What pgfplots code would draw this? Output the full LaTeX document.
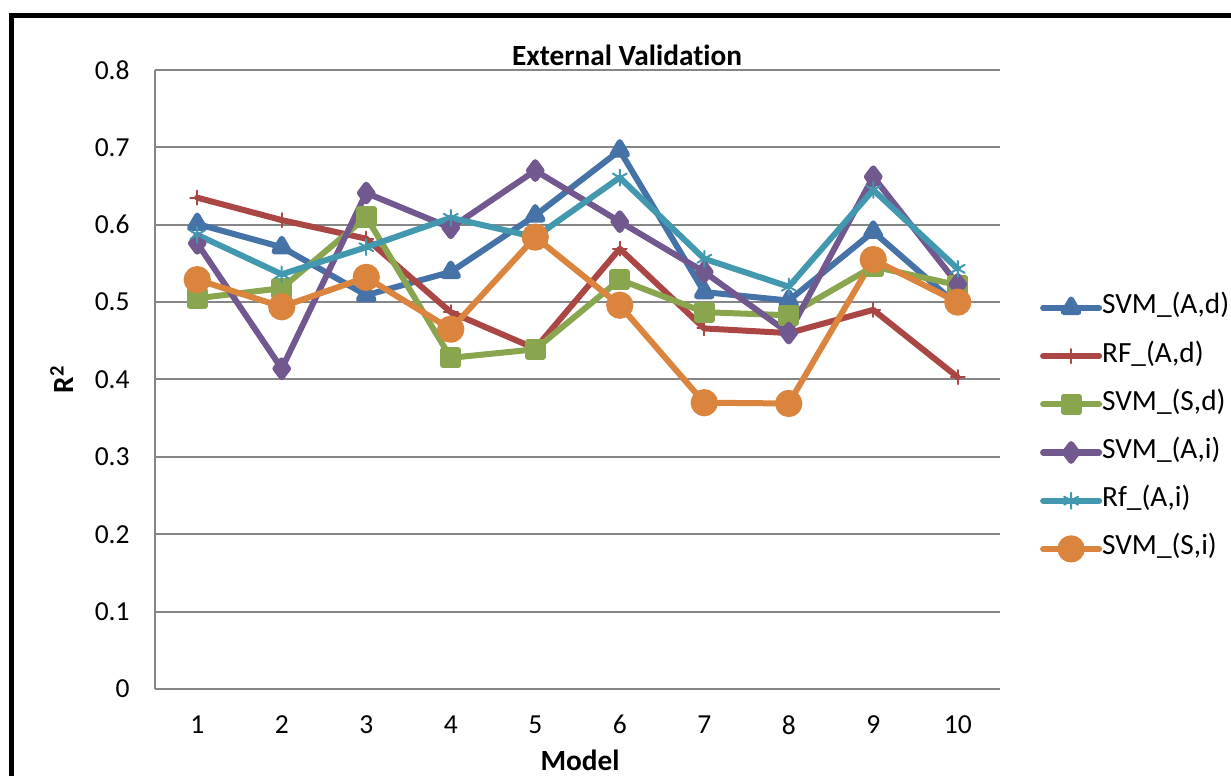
\documentclass[border=0pt]{standalone}
\usepackage{fontspec}
\setmainfont{Carlito}[Ligatures=NoCommon]
\usepackage{pgfplots}
\pgfplotsset{compat=1.18}
\definecolor{cblue}{HTML}{4572A7}
\definecolor{cred}{HTML}{AA4643}
\definecolor{cgreen}{HTML}{89A54E}
\definecolor{cpurple}{HTML}{71588F}
\definecolor{cteal}{HTML}{4198AF}
\definecolor{corange}{HTML}{DB843D}
\definecolor{cgrid}{HTML}{868686}
\begin{document}
\begin{tikzpicture}
\begin{axis}[
  scale only axis,
  width=422.5bp, height=309.5bp,
  xmin=0.5, xmax=10.5, ymin=0, ymax=0.8,
  axis lines*=left,
  axis line style={cgrid, line width=1bp},
  major tick length=0pt,
  xtick={1,2,3,4,5,6,7,8,9,10},
  xticklabels={1,2,3,4,5,6,7,8,9,10},
  ytick={0,0.1,0.2,0.3,0.4,0.5,0.6,0.7,0.8},
  yticklabels={0,0.1,0.2,0.3,0.4,0.5,0.6,0.7,0.8},
  ymajorgrids,
  grid style={cgrid, line width=1bp},
  tick label style={font=\fontsize{13.8}{15}\selectfont},
  yticklabel style={inner sep=0pt, xshift=-12.5bp},
  xticklabel style={inner sep=0pt, yshift=-13bp},
  every axis title shift=0pt,
  title={\bfseries External Validation},
  title style={at={(axis description cs:0.5586,1.024)}, anchor=center, yshift=0pt, inner sep=0pt, font=\fontsize{14.7}{17}\selectfont},
  xlabel={\bfseries Model},
  xlabel style={at={(axis description cs:0.503,0)}, anchor=center, yshift=-35.5bp, inner sep=0pt, font=\fontsize{14.7}{17}\selectfont},
  ylabel={\bfseries R\textsuperscript{2}},
  ylabel style={at={(axis description cs:-0.110,0.5)}, anchor=center, inner sep=0pt, font=\fontsize{14.7}{17}\selectfont},
  every axis plot/.append style={line width=3bp, line cap=round, line join=round},
  legend style={at={(axis description cs:1.047,0.421)}, anchor=west, draw=none, fill=none,
    inner sep=0pt, row sep=13.1bp,
    nodes={inner sep=0pt, text height=8.5bp, text depth=2.5bp, font=\fontsize{14.7}{17}\selectfont}},
  legend cell align=left,
  legend image code/.code={\draw[mark=none] (0bp,0bp) -- (28bp,0bp);
    \pgfinterruptboundingbox \draw plot coordinates {(14bp,0bp)}; \endpgfinterruptboundingbox},
]
\addplot[color=cblue, mark=triangle*, mark size=4.2bp, mark options={solid}] coordinates {
(1,0.601)(2,0.571)(3,0.509)(4,0.539)(5,0.612)(6,0.696)(7,0.513)(8,0.502)(9,0.591)(10,0.496)};
\addlegendentry{SVM\_(A,d)}
\addplot[color=cred, mark=+, mark size=3.5bp, mark options={line width=1bp}] coordinates {
(1,0.635)(2,0.606)(3,0.582)(4,0.487)(5,0.440)(6,0.569)(7,0.466)(8,0.460)(9,0.490)(10,0.403)};
\addlegendentry{RF\_(A,d)}
\addplot[color=cgreen, mark=square*, mark size=3.8bp] coordinates {
(1,0.505)(2,0.518)(3,0.610)(4,0.428)(5,0.439)(6,0.529)(7,0.487)(8,0.483)(9,0.546)(10,0.522)};
\addlegendentry{SVM\_(S,d)}
\addplot[color=cpurple, mark=diamond*, mark size=4.2bp] coordinates {
(1,0.576)(2,0.414)(3,0.641)(4,0.596)(5,0.670)(6,0.604)(7,0.539)(8,0.460)(9,0.662)(10,0.523)};
\addlegendentry{SVM\_(A,i)}
\addplot[color=cteal, mark=asterisk, mark size=4bp, mark options={line width=1bp}] coordinates {
(1,0.587)(2,0.536)(3,0.571)(4,0.609)(5,0.584)(6,0.661)(7,0.556)(8,0.520)(9,0.645)(10,0.543)};
\addlegendentry{Rf\_(A,i)}
\addplot[color=corange, mark=*, mark size=5.3bp] coordinates {
(1,0.529)(2,0.494)(3,0.532)(4,0.465)(5,0.584)(6,0.496)(7,0.370)(8,0.369)(9,0.555)(10,0.500)};
\addlegendentry{SVM\_(S,i)}
\end{axis}
\draw[black, line width=2.5bp] (-71.5bp,-60bp) -- (-71.5bp,336.5bp) -- (560bp,336.5bp);
\pgfresetboundingbox
\useasboundingbox (-77.5bp,-43.5bp) rectangle (538bp,344.5bp);
\end{tikzpicture}
\end{document}
